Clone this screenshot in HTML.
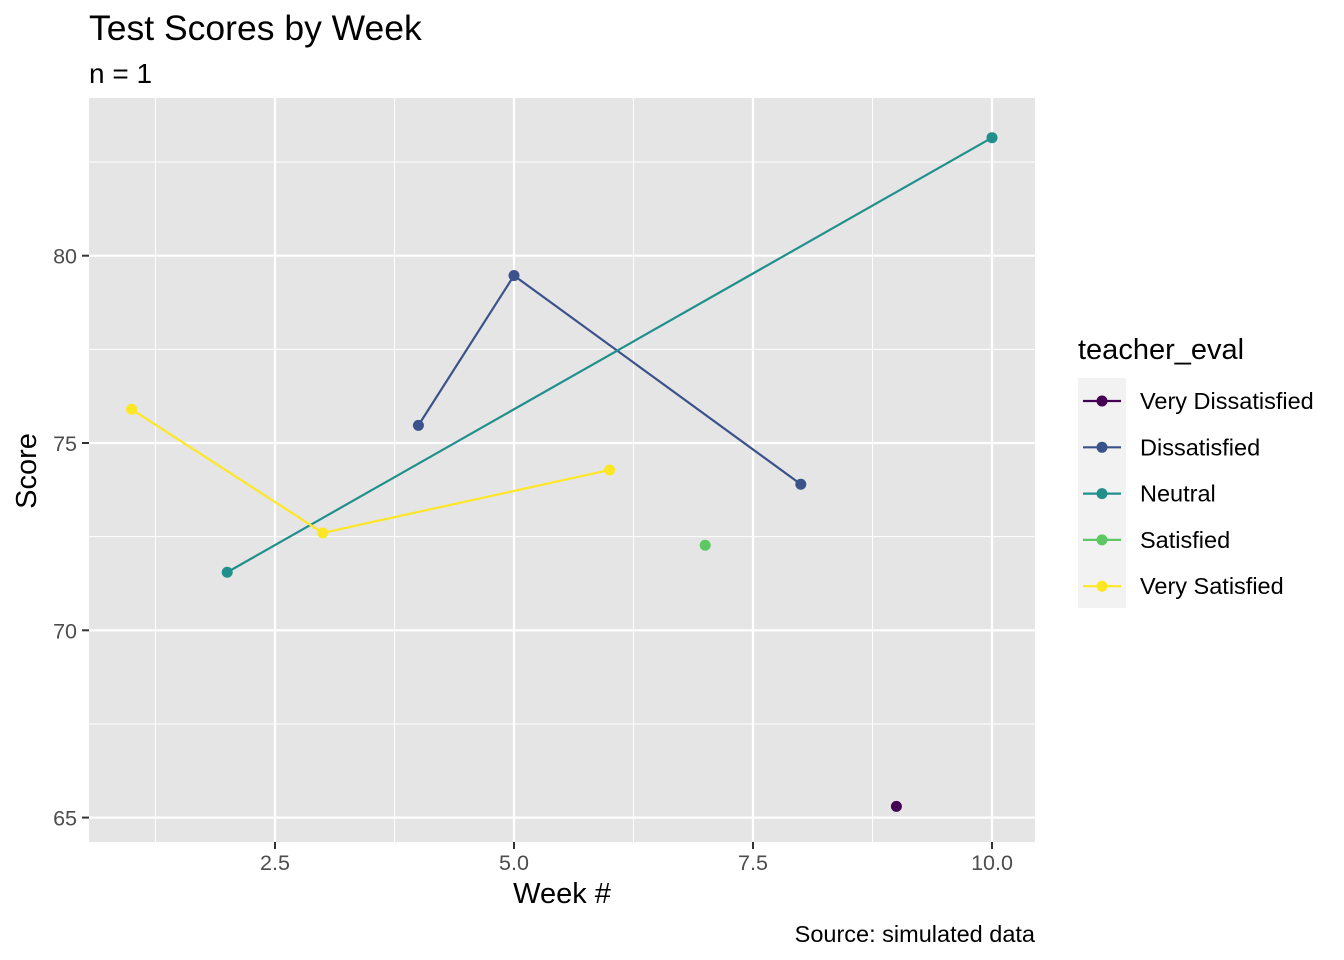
<!DOCTYPE html>
<html><head><meta charset="utf-8"><style>
body{margin:0;background:#fff;}
svg{display:block;font-family:"Liberation Sans",Arial,sans-serif;}
</style></head><body>
<svg id="chart" width="1344" height="960" viewBox="0 0 1344 960" xmlns="http://www.w3.org/2000/svg">
<text x="89" y="40" font-size="35.5" fill="#000">Test Scores by Week</text>
<text x="89" y="83" font-size="28" fill="#000">n = 1</text>
<rect x="89" y="98" width="946" height="744" fill="#e5e5e5"/>
<g id="grid"></g>
<g id="series"></g>
<g id="axes"></g>
<text x="562" y="903" font-size="29" text-anchor="middle" fill="#000">Week #</text>
<text transform="translate(36,471) rotate(-90)" font-size="29" text-anchor="middle" fill="#000">Score</text>
<text x="1035" y="942" font-size="23.5" text-anchor="end" fill="#000">Source: simulated data</text>
<text x="1078" y="359" font-size="29" fill="#000">teacher_eval</text>
<rect x="1078" y="378" width="48" height="230" fill="#f2f2f2"/>
<g id="legend"></g>
</svg>
<script>
const categories=["Very Dissatisfied","Dissatisfied","Neutral","Satisfied","Very Satisfied"];
const colors=["#440154","#3B528B","#21908C","#5DC863","#FDE725"];
const weeksVD=[9], scoresVD=[65.3];
const weeksD=[4,5,8], scoresD=[75.47,79.47,73.9];
const weeksN=[2,10], scoresN=[71.55,83.15];
const weeksS=[7], scoresS=[72.27];
const weeksVS=[1,3,6], scoresVS=[75.9,72.6,74.28];
const xTicks=[2.5,5.0,7.5,10.0];
const xTickLabels=["2.5","5.0","7.5","10.0"];
const yTicks=[65,70,75,80];
const yTickLabels=["65","70","75","80"];

const NS="http://www.w3.org/2000/svg";
const X=v=>514+(v-5)*95.6;
const Y=v=>443-(v-75)*37.46;
function mk(tag,attrs,parent){const e=document.createElementNS(NS,tag);for(const k in attrs)e.setAttribute(k,attrs[k]);parent.appendChild(e);return e;}
const grid=document.getElementById('grid'),axes=document.getElementById('axes'),ser=document.getElementById('series'),leg=document.getElementById('legend');

for(let i=0;i<xTicks.length;i++){
  const v=xTicks[i];
  const mn=mk('line',{x1:X(v-1.25),x2:X(v-1.25),y1:98,y2:842,stroke:'#fff','stroke-width':1},grid);
  
  
  const g=mk('line',{x1:X(v),x2:X(v),y1:98,y2:842,stroke:'#fff','stroke-width':2.2},grid);
  
  
  const t=mk('line',{x1:X(v),x2:X(v),y1:842,y2:849,stroke:'#333','stroke-width':2},axes);
  
  
  const l=mk('text',{x:X(v),y:870,'font-size':21.5,'text-anchor':'middle',fill:'#4d4d4d'},axes);
  l.textContent=xTickLabels[i];
  
  
}
const mxLast=mk('line',{x1:X(8.75),x2:X(8.75),y1:98,y2:842,stroke:'#fff','stroke-width':1},grid);


for(let i=0;i<yTicks.length;i++){
  const v=yTicks[i];
  const mn=mk('line',{x1:89,x2:1035,y1:Y(v+2.5),y2:Y(v+2.5),stroke:'#fff','stroke-width':1},grid);
  
  
  const g=mk('line',{x1:89,x2:1035,y1:Y(v),y2:Y(v),stroke:'#fff','stroke-width':2.2},grid);
  
  
  const t=mk('line',{x1:82,x2:89,y1:Y(v),y2:Y(v),stroke:'#333','stroke-width':2},axes);
  
  
  const l=mk('text',{x:77,y:Y(v)+8,'font-size':21.5,'text-anchor':'end',fill:'#4d4d4d'},axes);
  l.textContent=yTickLabels[i];
  
  
}

const allW=[weeksVD,weeksD,weeksN,weeksS,weeksVS], allS=[scoresVD,scoresD,scoresN,scoresS,scoresVS];
for(let c=0;c<categories.length;c++){
  const w=allW[c],s=allS[c];
  if(w.length>1){
    const pts=w.map((v,i)=>X(v)+','+Y(s[i])).join(' ');
    const pl=mk('polyline',{points:pts,fill:'none',stroke:colors[c],'stroke-width':2.2},ser);
    
    
  }
  for(let i=0;i<w.length;i++){
    const p=mk('circle',{cx:X(w[i]),cy:Y(s[i]),r:5.5,fill:colors[c]},ser);
    
    
  }
  const ly=401+c*46.3;
  const kl=mk('line',{x1:1083,x2:1121,y1:ly,y2:ly,stroke:colors[c],'stroke-width':2.2},leg);
  
  
  const kc=mk('circle',{cx:1102,cy:ly,r:5.5,fill:colors[c]},leg);
  
  
  const lt=mk('text',{x:1140,y:ly+8,'font-size':23.5,fill:'#000'},leg);
  lt.textContent=categories[c];
  
  
}
</script>
</body></html>
